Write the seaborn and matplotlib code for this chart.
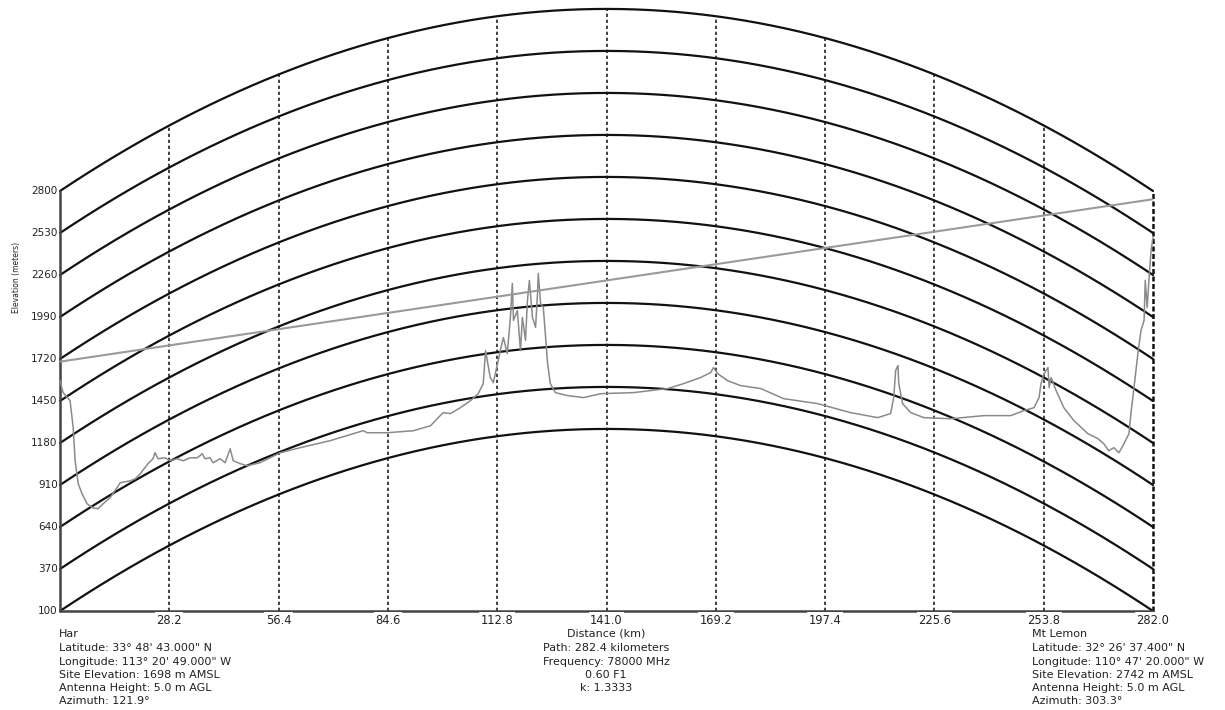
import numpy as np
import pandas as pd
import matplotlib
matplotlib.use("Agg")
from matplotlib import pyplot as plt
import seaborn as sns

# Path settings
K_FACTOR = 1.3333
PATH_KM = 282.0
SITE_A_ELEV = 1698
SITE_B_ELEV = 2742
ANTENNA_AGL = 5.0

# Elevation grid / tick labels
y_ticks = [100, 370, 640, 910, 1180, 1450, 1720, 1990, 2260, 2530, 2800]
x_ticks = [28.2, 56.4, 84.6, 112.8, 141.0, 169.2, 197.4, 225.6, 253.8, 282.0]

# Terrain profile as drawn on the curved-earth chart (km, m)
profile_km = [0.0, 0.8, 2.6, 3.4, 3.9, 4.7, 5.7, 7.0, 8.5, 9.8, 11.1, 12.9, 14.7,
              15.5, 18.1, 19.4, 20.7, 22.7, 24.0, 24.5, 25.3, 27.1, 28.4, 30.2,
              31.8, 33.6, 35.4, 36.7, 37.4, 38.7, 39.5, 41.3, 42.6, 43.9, 44.7,
              46.5, 48.3, 51.6, 56.8, 62.0, 69.7, 78.2, 79.3, 84.4, 91.2, 95.6,
              98.1, 98.9, 100.7, 103.3, 105.9, 107.9, 109.2, 109.8, 111.0, 111.8,
              112.9, 113.6, 114.4, 115.4, 116.2, 116.7, 117.0, 118.0, 118.8,
              119.3, 120.1, 120.6, 121.1, 121.9, 122.7, 123.2, 123.4, 124.0,
              124.7, 125.2, 125.8, 126.5, 127.8, 130.9, 135.1, 139.5, 148.0,
              156.8, 160.9, 165.3, 167.9, 168.6, 169.7, 172.2, 175.6, 180.8,
              186.7, 195.5, 204.0, 211.0, 214.3, 215.1, 215.6, 216.2, 216.4,
              217.4, 219.5, 222.9, 229.8, 238.4, 245.3, 248.7, 251.3, 252.6,
              253.1, 253.9, 254.9, 255.2, 255.7, 257.0, 259.0, 261.6, 265.2,
              267.8, 269.3, 270.6, 271.9, 273.2, 274.5, 275.8, 276.3, 277.1,
              278.1, 278.9, 279.7, 280.0, 280.5, 281.0, 281.5, 282.0]
profile_m = [1581, 1504, 1452, 1279, 1066, 918, 853, 789, 763, 757, 789, 828, 892,
             924, 937, 950, 982, 1047, 1079, 1118, 1079, 1085, 1066, 1079,
             1066, 1085, 1085, 1111, 1079, 1085, 1053, 1079, 1053, 1143, 1066,
             1047, 1034, 1053, 1117, 1150, 1195, 1259, 1246, 1246, 1259, 1291,
             1356, 1375, 1369, 1407, 1452, 1497, 1562, 1774, 1601, 1568,
             1691, 1774, 1858, 1755, 1987, 2206, 1968, 2032, 1774,
             1987, 1839, 2096, 2225, 1987, 1923, 2141, 2270, 2077,
             2051, 1884, 1691, 1562, 1504, 1485, 1472, 1497, 1504,
             1530, 1562, 1601, 1633, 1665, 1626, 1581, 1549, 1530,
             1465, 1433, 1375, 1343, 1369, 1472, 1646, 1678, 1562,
             1433, 1375, 1343, 1336, 1356, 1356, 1388, 1407, 1472,
             1562, 1626, 1665, 1536, 1601, 1517, 1407, 1324, 1240,
             1208, 1175, 1130, 1150, 1117, 1175, 1240, 1369, 1536,
             1755, 1903, 1968, 2225, 2051, 2245, 2418, 2500]

left_info = ["Har", "Latitude: 33° 48' 43.000\" N", "Longitude: 113° 20' 49.000\" W",
             "Site Elevation: 1698 m AMSL", "Antenna Height: 5.0 m AGL", "Azimuth: 121.9°"]
mid_info = ["Distance (km)", "Path: 282.4 kilometers", "Frequency: 78000 MHz",
            "0.60 F1", "k: 1.3333"]
right_info = ["Mt Lemon", "Latitude: 32° 26' 37.400\" N", "Longitude: 110° 47' 20.000\" W",
              "Site Elevation: 2742 m AMSL", "Antenna Height: 5.0 m AGL", "Azimuth: 303.3°"]


def bulge(d):
    # earth bulge in metres for distance d (km) along the path
    return d * (PATH_KM - d) / (12.74 * K_FACTOR)


def main():
    sns.set_style("white")
    plt.rcParams["font.family"] = ["DejaVu Sans"]

    W, H = 1225, 710
    fig = plt.figure(figsize=(W / 100, H / 100), dpi=100)
    # axes box in pixels: x 60..1153, y 191 (2800) .. 611 (100)
    ax = fig.add_axes([60 / W, (H - 611) / H, 1093 / W, 420 / H])
    ax.set_xlim(0, PATH_KM)
    ax.set_ylim(100, 2800)
    ax.axis("off")

    # curved earth lines
    d = np.linspace(0, PATH_KM, 400)
    for base in y_ticks:
        ax.plot(d, base + bulge(d), color="#111111", lw=1.6, clip_on=False, zorder=2)

    # vertical dashed lines up to top arc
    for x in x_ticks[:-1]:
        ax.plot([x, x], [60, y_ticks[-1] + bulge(x)], color="#222222", lw=1.2,
                ls=(0, (2, 1.6)), clip_on=False, zorder=1)
    ax.plot([PATH_KM, PATH_KM], [100, 2800], color="#111111", lw=1.8,
            ls=(0, (2, 1)), clip_on=False, zorder=2)

    # axes lines
    ax.plot([0, 0], [100, 2800], color="#444444", lw=1.8, clip_on=False, zorder=3)
    ax.plot([0, PATH_KM], [100, 100], color="#444444", lw=1.8, clip_on=False, zorder=3)

    # terrain profile and line of sight
    df = pd.DataFrame({"Distance": profile_km, "Elevation": profile_m})
    sns.lineplot(data=df, x="Distance", y="Elevation", color="#8a8a8a", lw=1.1,
                 ax=ax, sort=False, estimator=None, zorder=4, clip_on=False)
    los = pd.DataFrame({"Distance": [0, PATH_KM],
                        "Elevation": [SITE_A_ELEV + ANTENNA_AGL, SITE_B_ELEV + ANTENNA_AGL]})
    sns.lineplot(data=los, x="Distance", y="Elevation", color="#9a9a9a", lw=1.5,
                 ax=ax, estimator=None, zorder=4)

    # tick labels
    for y in y_ticks:
        ax.text(-0.6, y, str(y), ha="right", va="center", fontsize=7.5,
                color="#222222", clip_on=False)
    for x in x_ticks:
        ax.text(x, 40, f"{x:.1f}", ha="center", va="center", fontsize=8.3,
                color="#222222", zorder=5,
                bbox=dict(facecolor="white", edgecolor="none", pad=1.0))

    fig.text(17 / W, 1 - 277 / H, "Elevation (meters)", rotation=90, ha="center",
             va="center", fontsize=5.5, color="#222222")

    # site / path info under the chart
    rows = [634, 648, 662, 675, 688, 701]
    for txt, yy in zip(left_info, rows):
        fig.text(59 / W, 1 - yy / H, txt, ha="left", va="center", fontsize=8, color="#222222")
    for txt, yy in zip(right_info, rows):
        fig.text(1032 / W, 1 - yy / H, txt, ha="left", va="center", fontsize=8, color="#222222")
    for txt, yy in zip(mid_info, rows):
        fig.text(606 / W, 1 - yy / H, txt, ha="center", va="center", fontsize=8, color="#222222")

    fig.savefig("out.png", dpi=100, facecolor="white")
    plt.close(fig)


if __name__ == "__main__":
    main()
